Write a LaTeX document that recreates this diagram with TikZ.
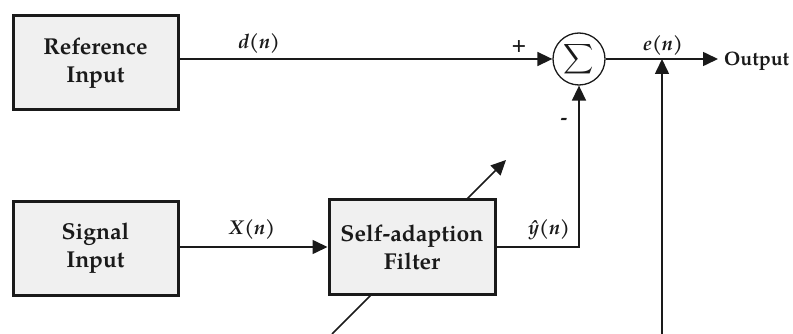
\documentclass[tikz,border=0pt]{standalone}
\usepackage{fontspec}
\setmainfont{TeX Gyre Pagella}
\usetikzlibrary{arrows.meta}
\definecolor{ink}{HTML}{1A1A1A}
\definecolor{boxfill}{HTML}{F0F0F0}
\tikzset{
  blockbox/.style={draw=ink, fill=boxfill, line width=3pt, minimum width=165pt,
    minimum height=94pt, inner sep=0pt, align=center, font=\fontsize{23}{28}\selectfont\bfseries, text=ink},
  sumnode/.style={draw=ink, circle, line width=1.3pt, minimum size=52pt, inner sep=0pt, text=ink},
  wire/.style={draw=ink, line width=1.6pt},
  flow/.style={wire, -{Triangle[length=15pt,width=14pt]}},
  sig/.style={font=\fontsize{20}{22}\selectfont\bfseries, text=ink, inner sep=0pt},
}
\begin{document}
\begin{tikzpicture}[x=1pt, y=-1pt]
\useasboundingbox (0,0) rectangle (793,334);

% adaptation arrow crossing the filter (drawn first so the filter box covers it)
\coordinate (adjlo) at (332,334);
\coordinate (adjhi) at (506,160);
\draw[flow] (adjlo) -- (adjhi);

% blocks
\node[blockbox] (ref)  at (95.5,63)   {Reference\\Input};
\node[blockbox] (src)  at (95.5,248.5) {Signal\\Input};
\node[blockbox, minimum width=166pt] (filt) at (412,247) {Self-adaption\\Filter};
\node[sumnode] (sum) at (579,59) {\scalebox{2.1}{$\displaystyle\sum$}};
\node[font=\fontsize{19.5}{24}\selectfont\bfseries, text=ink, anchor=west, inner sep=0pt] (out) at (724,61) {Output};

% connectors
\draw[flow] (ref.east |- sum.west) -- (sum.west);
\draw[flow] (src.east |- filt.west) -- (filt.west);
\draw[flow] (filt.east) -| (sum.south);
\draw[flow, shorten >=6pt] (sum.east) -- (out.west |- sum.east);
\coordinate (errin) at (662,334);
\draw[flow] (errin) -- (errin |- sum.east);

% signal labels
\node[sig] (dlab) at (259,44) {\textit{d}(\textit{n})};
\node[sig] (plus) at (519,47) {+};
\node[sig] (elab) at (663,46) {\textit{e}(\textit{n})};
\node[sig] (minus) at (564,121) {-};
\node[sig] (xlab) at (252,229) {\textit{X}(\textit{n})};
\node[sig] (ylab) at (549,230) {\textit{\^y}(\textit{n})};
\end{tikzpicture}
\end{document}
